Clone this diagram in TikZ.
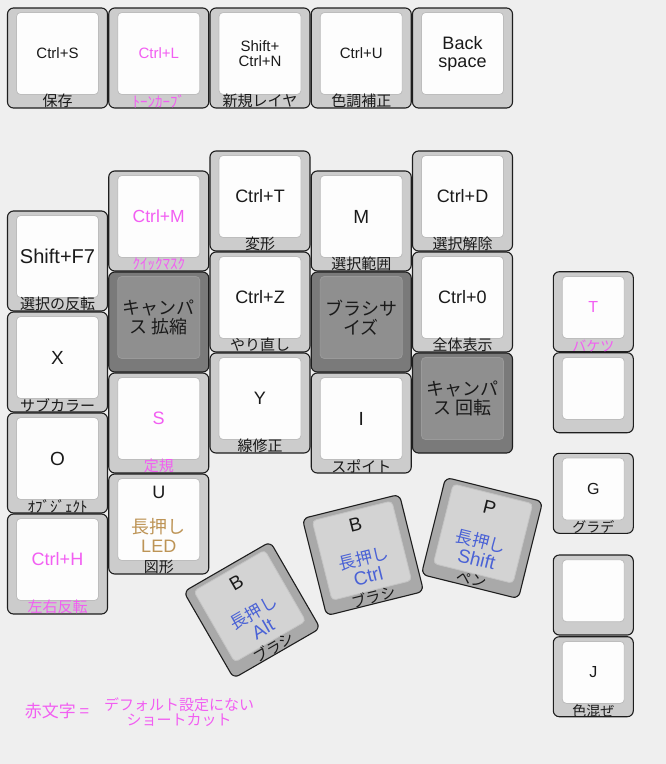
\documentclass[tikz,border=0pt]{standalone}
\usepackage{fontspec}
\setmainfont{Liberation Sans}
\newfontfamily\jp{Noto Sans CJK JP}
\usetikzlibrary{positioning}
\definecolor{paper}{HTML}{EFEFEF}
\definecolor{edge}{HTML}{1E1E1E}
\definecolor{keygray}{HTML}{CCCCCC}
\definecolor{capwhite}{HTML}{FDFDFD}
\definecolor{capline}{HTML}{BDBDBD}
\definecolor{darkkey}{HTML}{7A7A7A}
\definecolor{darkcap}{HTML}{8F8F8F}
\definecolor{darkline}{HTML}{9A9A9A}
\definecolor{thumbkey}{HTML}{A9A9A9}
\definecolor{thumbcap}{HTML}{D3D3D3}
\definecolor{thumbline}{HTML}{C4C4C4}
\definecolor{ink}{HTML}{1A1A1A}
\definecolor{nondefault}{HTML}{F25EF2}
\definecolor{holdblue}{HTML}{4A62D6}
\definecolor{ledtan}{HTML}{BD9456}

\begin{document}
\begin{tikzpicture}[x=1pt,y=-1pt,
  keyout/.style={draw=edge,fill=keygray,rounded corners=6pt,line width=1.1pt,
    minimum width=100pt,minimum height=100pt,inner sep=0pt},
  keyin/.style={draw=capline,fill=capwhite,rounded corners=4pt,line width=.8pt,
    minimum width=82pt,minimum height=82pt,inner sep=0pt,align=center,text=ink},
  smallout/.style={keyout,minimum width=80pt,minimum height=80pt},
  smallin/.style={keyin,minimum width=62pt,minimum height=62pt,
    font=\fontsize{16}{16}\selectfont},
  darkout/.style={keyout,fill=darkkey},
  darkin/.style={keyin,fill=darkcap,draw=darkline,font=\jp\fontsize{18}{19}\selectfont},
  thumbout/.style={keyout,fill=thumbkey},
  thumbin/.style={keyin,fill=thumbcap,draw=thumbline,font=\fontsize{19}{19}\selectfont},
  keylabel/.style={font=\jp\fontsize{15}{15}\selectfont,text=ink,inner sep=0pt},
  smalllabel/.style={keylabel,font=\jp\fontsize{14}{14}\selectfont},
  legendtext/.style={font=\jp\fontsize{15}{15}\selectfont,text=nondefault,
    align=center,inner sep=0pt}
]
\fill[paper] (0,0) rectangle (666,764);
\useasboundingbox (0,0) rectangle (666,764);

\foreach \nm/\cx/\cy/\fs/\tc/\txt/\lbl in {
    save/57.5/58/15/ink/{Ctrl+S}/{保存},
    tonecurve/158.75/58/15/nondefault/{Ctrl+L}/{ﾄｰﾝｶｰﾌﾞ},
    newlayer/260/58/15/ink/{Shift+\\Ctrl+N}/{新規レイヤ},
    colortone/361.25/58/15/ink/{Ctrl+U}/{色調補正},
    backspace/462.5/58/18/ink/{Back\\space}/{},
    invsel/57.5/261/20/ink/{Shift+F7}/{選択の反転},
    subcolor/57.5/362/19/ink/{X}/{サブカラー},
    object/57.5/463/19/ink/{O}/{ｵﾌﾞｼﾞｪｸﾄ},
    flip/57.5/564/18/nondefault/{Ctrl+H}/{左右反転},
    quickmask/158.75/221/17.5/nondefault/{Ctrl+M}/{ｸｲｯｸﾏｽｸ},
    ruler/158.75/423/18/nondefault/{S}/{定規},
    transform/260/201/18/ink/{Ctrl+T}/{変形},
    undo/260/302/18/ink/{Ctrl+Z}/{やり直し},
    fixline/260/403/18/ink/{Y}/{線修正},
    selrange/361.25/221/19/ink/{M}/{選択範囲},
    eyedrop/361.25/423/19/ink/{I}/{スポイト},
    deselect/462.5/201/18/ink/{Ctrl+D}/{選択解除},
    fitall/462.5/302/18/ink/{Ctrl+0}/{全体表示}}{
  \node[keyout] (\nm) at (\cx,\cy) {};
  \node[keyin,text=\tc,font=\fontsize{\fs}{\fs}\selectfont] (\nm-cap) at (\cx,\cy-4.5) {\txt};
  \node[keylabel,text=\tc] (\nm-lbl) at (\cx,\cy+43) {\lbl};
}

\foreach \nm/\cx/\cy/\txt in {
    canvaszoom/158.75/322/{キャンパ\\ス 拡縮},
    brushsize/361.25/322/{ブラシサ\\イズ},
    canvasrot/462.5/403/{キャンパ\\ス 回転}}{
  \node[darkout] (\nm) at (\cx,\cy) {};
  \node[darkin] (\nm-cap) at (\cx,\cy-4.5) {\txt};
}

\node[keyout] (shape) at (158.75,524) {};
\node[keyin,font=\fontsize{18}{19}\selectfont] (shape-cap) at (158.75,519.5)
  {U\\[16pt]\textcolor{ledtan}{\jp 長押し}\\\textcolor{ledtan}{LED}};
\node[keylabel] (shape-lbl) at (158.75,567) {図形};

\foreach \nm/\cx/\cy/\ang/\keych/\hold/\lbl in {
    brushalt/252/610/30/B/Alt/ブラシ,
    brushctrl/363/555/14/B/Ctrl/ブラシ,
    pen/482/538/-14/P/Shift/ペン}{
  \begin{scope}[shift={(\cx,\cy)},rotate=\ang,transform shape]
    \node[thumbout] (\nm) at (0,0) {};
    \node[thumbin] (\nm-cap) at (0,-4.5)
      {\keych\\[15pt]\fontsize{17}{19}\selectfont\textcolor{holdblue}{\jp 長押し}\\\textcolor{holdblue}{\hold}};
    \node[keylabel] (\nm-lbl) at (0,43) {\lbl};
  \end{scope}
}

\foreach \nm/\cy/\tc/\txt/\lbl in {
    bucket/311.7/nondefault/T/バケツ,
    blanka/392.7/ink/{}/{},
    gradient/493.3/ink/G/グラデ,
    blankb/595/ink/{}/{},
    blend/676.7/ink/J/色混ぜ}{
  \node[smallout] (\nm) at (593.3,\cy) {};
  \node[smallin,text=\tc] (\nm-cap) at (593.3,\cy-4.3) {\txt};
  \node[smalllabel,text=\tc] (\nm-lbl) at (593.3,\cy+34) {\lbl};
}

\node[legendtext,font=\jp\fontsize{17}{17}\selectfont] (legend) at (57,711) {赤文字 =};
\node[legendtext] (legendnote) at (179,712) {デフォルト設定にない\\ショートカット};
\end{tikzpicture}
\end{document}
